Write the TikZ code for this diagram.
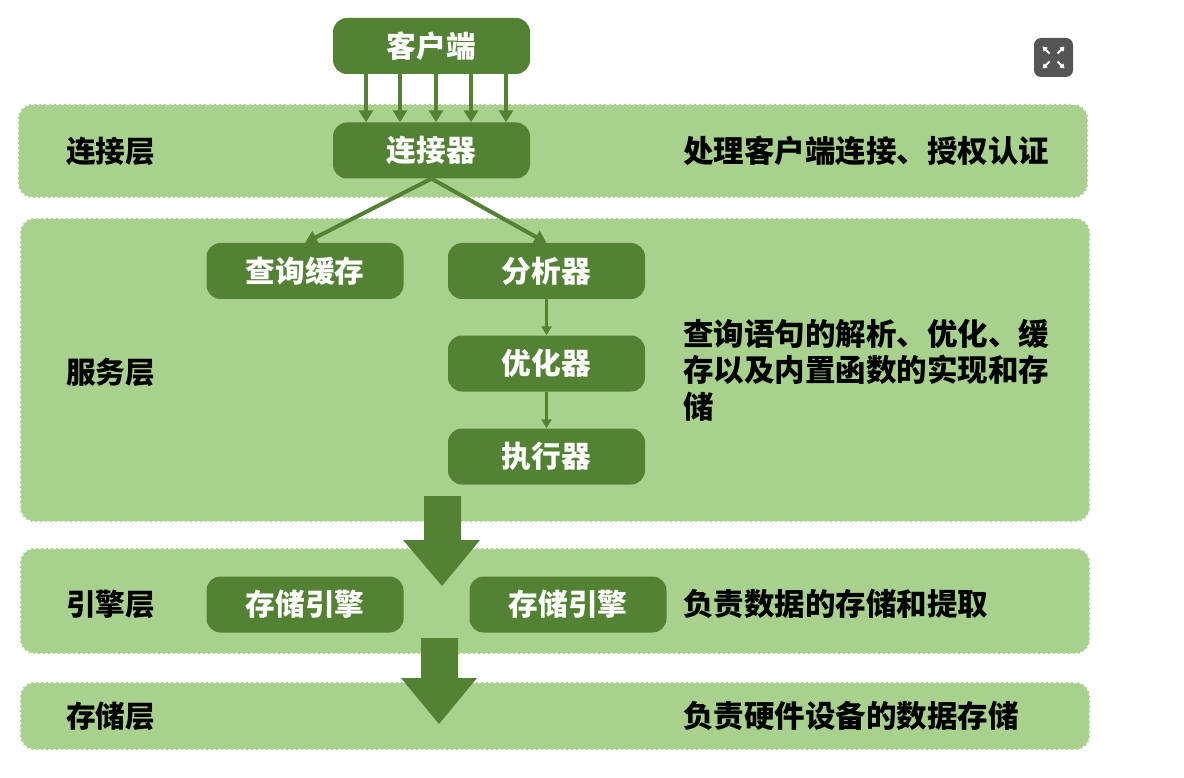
\documentclass[tikz,border=0pt]{standalone}
\usepackage{fontspec}
\newfontfamily\cjk{Noto Sans CJK SC}
\usetikzlibrary{arrows.meta,calc}
\definecolor{layerbg}{HTML}{A9D18E}
\definecolor{dgreen}{HTML}{548235}
\definecolor{icongray}{HTML}{555555}
\tikzset{
  layer/.style={fill=layerbg, draw=white, line width=2pt, dash pattern=on 3pt off 2pt, rounded corners=14pt, inner sep=0pt},
  box/.style={fill=dgreen, rounded corners=14pt, text=white, font=\cjk\bfseries\fontsize{29.7}{34}\selectfont, inner sep=0pt, minimum width=197pt, minimum height=56pt},
  lbl/.style={font=\cjk\bfseries\fontsize{29.7}{36.5}\selectfont, text=black, inner sep=0pt},
  desc/.style={font=\cjk\bfseries\fontsize{30.5}{36.5}\selectfont, text=black, inner sep=0pt},
  conn/.style={draw=dgreen, line width=4pt, -{Triangle[width=14pt,length=12pt]}},
  connsmall/.style={draw=dgreen, line width=3pt, -{Triangle[width=10pt,length=9pt]}},
  bigarrow/.style={fill=dgreen},
  iconarrow/.style={draw=white, line width=1.8pt, -{Triangle[width=5.5pt,length=4.5pt]}}
}
\begin{document}
\begin{tikzpicture}[x=1pt,y=-1pt]
\useasboundingbox (0,0) rectangle (1184,778);
\fill[white] (0,0) rectangle (1184,778);
% layers
\node[layer, minimum width=1070pt, minimum height=94pt] (L1) at (553,151) {};
\node[layer, minimum width=1070pt, minimum height=304pt] (L2) at (555,370) {};
\node[layer, minimum width=1070pt, minimum height=106pt] (L3) at (555,601) {};
\node[layer, minimum width=1070pt, minimum height=68pt] (L4) at (555,716) {};
% big arrows
\fill[bigarrow] (424,496) -- (461,496) -- (461,540) -- (480,540) -- (442,586) -- (403,540) -- (424,540) -- cycle;
\fill[bigarrow] (421,638) -- (458,638) -- (458,678) -- (477,678) -- (439,724) -- (401,678) -- (421,678) -- cycle;
% boxes
\node[box] (client) at (431.5,46) {客户端};
\node[box] (connector) at (431.5,150.5) {连接器};
\node[box] (cache) at (305,271) {查询缓存};
\node[box] (analyzer) at (546.5,271) {分析器};
\node[box] (optimizer) at (546.5,363.5) {优化器};
\node[box] (executor) at (546.5,456.5) {执行器};
\node[box] (engine1) at (305,604.5) {存储引擎};
\node[box] (engine2) at (568,604.5) {存储引擎};
% client -> connector arrows
\foreach \x [count=\i] in {366,400,436,471,506} {
  \coordinate (cx\i) at (\x,0);
  \draw[conn] (client.south -| cx\i) -- (connector.north -| cx\i);
}
\draw[conn] (connector.south) -- (cache.north);
\draw[conn] (connector.south) -- (analyzer.north);
\draw[connsmall] (analyzer.south) -- (optimizer.north);
\draw[connsmall] (optimizer.south) -- (executor.north);
% left labels
\node[lbl, anchor=west] (n1) at (66,151) {连接层};
\node[lbl, anchor=west] (n2) at (66,372) {服务层};
\node[lbl, anchor=west] (n3) at (66,604) {引擎层};
\node[lbl, anchor=west] (n4) at (66,716) {存储层};
% right descriptions
\node[desc, anchor=west] (d1) at (683,151) {处理客户端连接、授权认证};
\node[desc, anchor=west, align=left] (d2) at (683,370) {查询语句的解析、优化、缓\\存以及内置函数的实现和存\\储};
\node[desc, anchor=west] (d3) at (683,604) {负责数据的存储和提取};
\node[desc, anchor=west] (d4) at (683,716) {负责硬件设备的数据存储};
% expand icon
\node[fill=icongray, rounded corners=7pt, minimum size=39pt, inner sep=0pt] (icon) at (1053.5,57.5) {};
\draw[iconarrow] ($(icon.center)+(-4,-4)$) -- ($(icon.center)+(-11,-11)$);
\draw[iconarrow] ($(icon.center)+(4,-4)$) -- ($(icon.center)+(11,-11)$);
\draw[iconarrow] ($(icon.center)+(-4,4)$) -- ($(icon.center)+(-11,11)$);
\draw[iconarrow] ($(icon.center)+(4,4)$) -- ($(icon.center)+(11,11)$);
\end{tikzpicture}
\end{document}
